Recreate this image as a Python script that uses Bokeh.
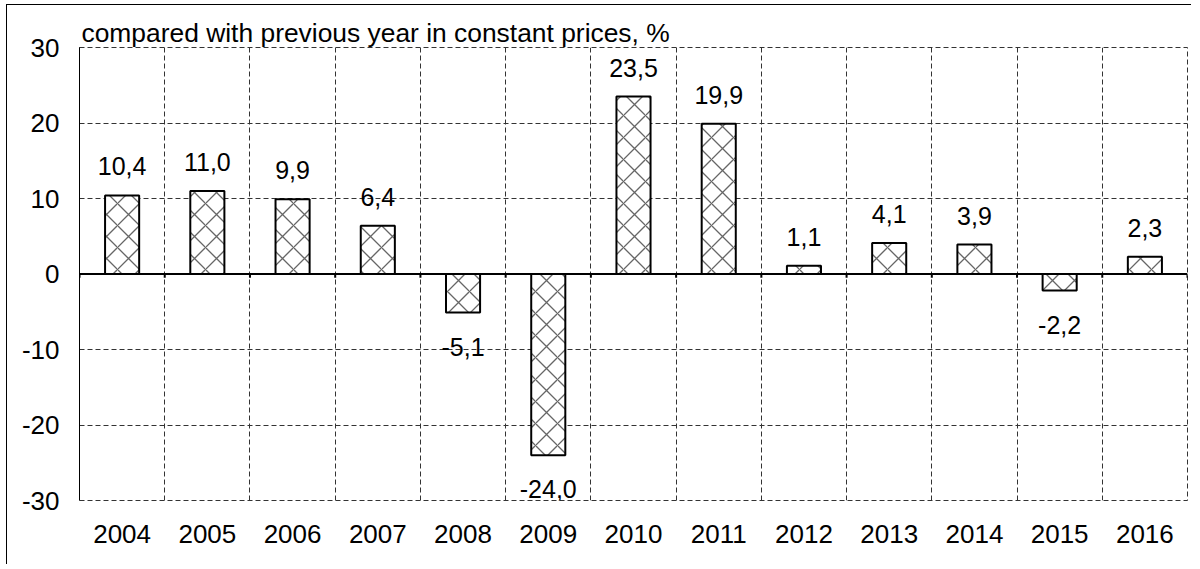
from bokeh.plotting import figure
from bokeh.models import Range1d, FixedTicker, Span
from bokeh.core.properties import value
from bokeh.embed import file_html
from bokeh.resources import INLINE

years = ["2004", "2005", "2006", "2007", "2008", "2009", "2010",
         "2011", "2012", "2013", "2014", "2015", "2016"]
growth = [10.4, 11.0, 9.9, 6.4, -5.1, -24.0, 23.5, 19.9, 1.1, 4.1, 3.9, -2.2, 2.3]
y_ticks = [-30, -20, -10, 0, 10, 20, 30]
title_text = "compared with previous year in constant prices, %"

FONT = "Liberation Sans"
FS_AX = "26px"
FS_VAL = "25px"
GRID_COL = "#333333"

n = len(years)
centers = [i + 0.5 for i in range(n)]
bounds = list(range(n + 1))

p = figure(width=1185, height=560, output_backend="svg", toolbar_location=None,
           x_range=Range1d(0, n), y_range=Range1d(-30, 30),
           min_border_left=72, min_border_right=5, min_border_top=42, min_border_bottom=65)
p.styles = {"margin-left": "6px", "margin-top": "4px",
            "border-left": "1.5px solid black", "border-top": "1.5px solid black"}
p.background_fill_color = "white"
p.border_fill_color = "white"
p.outline_line_color = GRID_COL
p.outline_line_dash = "5 3"
p.outline_line_width = 1

# header
p.title.text = title_text
p.title.align = "left"
p.title.offset = 2
p.title.standoff = 0
p.title.text_font = FONT
p.title.text_font_size = "26.4px"
p.title.text_font_style = "normal"
p.title.text_color = "black"

# axes
p.xaxis.ticker = FixedTicker(ticks=centers)
p.xaxis.major_label_overrides = {c: y for c, y in zip(centers, years)}
p.xaxis.axis_line_color = None
p.xaxis.major_tick_line_color = None
p.xaxis.minor_tick_line_color = None
p.xaxis.major_tick_out = 0
p.xaxis.major_tick_in = 0
p.xaxis.minor_tick_out = 0
p.xaxis.major_label_standoff = 24
p.xaxis.major_label_text_font = FONT
p.xaxis.major_label_text_font_size = FS_AX
p.xaxis.major_label_text_color = "black"

p.yaxis.ticker = FixedTicker(ticks=y_ticks)
p.yaxis.major_label_overrides = {t: str(t) for t in y_ticks}
p.yaxis.axis_line_color = "black"
p.yaxis.axis_line_width = 1
p.yaxis.major_tick_line_color = None
p.yaxis.minor_tick_line_color = None
p.yaxis.major_tick_out = 0
p.yaxis.major_tick_in = 0
p.yaxis.minor_tick_out = 0
p.yaxis.major_label_standoff = 20
p.yaxis.major_label_text_font = FONT
p.yaxis.major_label_text_font_size = FS_AX
p.yaxis.major_label_text_color = "black"

# grids
p.xgrid.ticker = FixedTicker(ticks=bounds[1:-1])
p.ygrid.ticker = FixedTicker(ticks=[t for t in y_ticks if t not in (-30, 0, 30)])
for g in (p.xgrid, p.ygrid):
    g.grid_line_color = GRID_COL
    g.grid_line_dash = "5 3"
    g.grid_line_width = 1

# bars
p.vbar(x=centers, top=growth, bottom=0, width=0.40,
       fill_color="white", line_color="black", line_width=2,
       hatch_pattern="diagonal_cross", hatch_color="#666666",
       hatch_scale=22, hatch_weight=1.3)

# zero line with ticks
p.add_layout(Span(location=0, dimension="width", line_color="black", line_width=2))
p.segment(x0=bounds, y0=[0] * len(bounds), x1=bounds, y1=[-0.5] * len(bounds),
          line_color="black", line_width=2)

# value labels
fmt = lambda v: f"{v:.1f}".replace(".", ",")
pos = [(c, v) for c, v in zip(centers, growth) if v >= 0]
neg = [(c, v) for c, v in zip(centers, growth) if v < 0]
p.text(x=[c for c, _ in pos], y=[v for _, v in pos], text=[fmt(v) for _, v in pos],
       text_align="center", text_baseline="alphabetic", y_offset=-29,
       text_font=value(FONT), text_font_size=FS_VAL, text_color="black")
p.text(x=[c for c, _ in neg], y=[v for _, v in neg], text=[fmt(v) for _, v in neg],
       text_align="center", text_baseline="alphabetic", y_offset=34,
       text_font=value(FONT), text_font_size=FS_VAL, text_color="black")

open("out.html", "w").write(file_html(p, INLINE))
